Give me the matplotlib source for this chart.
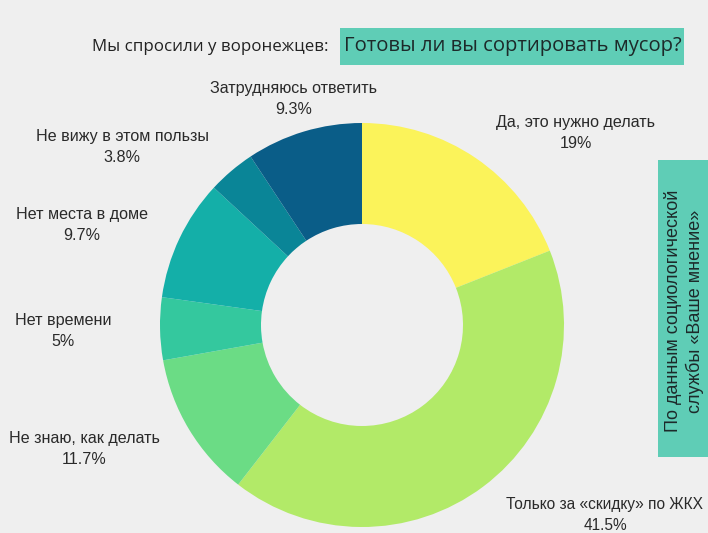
import matplotlib.pyplot as plt
from matplotlib.patches import Rectangle

# Survey answers, clockwise from the top
answers = [
    "Да, это нужно делать",
    "Только за «скидку» по ЖКХ",
    "Не знаю, как делать",
    "Нет времени",
    "Нет места в доме",
    "Не вижу в этом пользы",
    "Затрудняюсь ответить",
]
shares = [19, 41.5, 11.7, 5, 9.7, 3.8, 9.3]
colors = ["#fbf35a", "#b2ea68", "#6bdc85", "#34c89e", "#14afa8", "#0a8597", "#0a5d88"]

W, H = 708, 533
BG = "#efefef"
TEAL = "#5fcdb6"

fig = plt.figure(figsize=(W / 100, H / 100), dpi=100, facecolor=BG)
ax = fig.add_axes([0, 0, 1, 1])
ax.set_facecolor(BG)


def py(y):
    # pixel row (top-down) -> axes y
    return H - y


# donut
ax.pie(shares, colors=colors, startangle=90, counterclock=False,
       center=(362, py(325)), radius=202,
       wedgeprops=dict(width=101, linewidth=0), frame=True)
ax.set_xlim(0, W)
ax.set_ylim(0, H)
ax.set_aspect("equal")
ax.axis("off")

# label positions (center x, first line y, font size) in pixels
label_pos = [(576, 122, 11.6), (605, 505, 11.2), (84, 439, 11.6), (63, 321, 11.6),
             (82, 215, 11.6), (122, 136, 11.6), (294, 89, 11.6)]
for name, val, (x, y, fs) in zip(answers, shares, label_pos):
    ax.text(x, py(y), name, ha="center", va="center", fontsize=fs,
            family="Liberation Sans", color="#2a2a2a")
    ax.text(x, py(y + 21), f"{val:g}%", ha="center", va="center", fontsize=fs,
            family="Liberation Sans", color="#2a2a2a")

# heading
ax.text(92, py(47), "Мы спросили у воронежцев:", ha="left", va="center",
        fontsize=12.2, family="Open Sans", color="#222222")
ax.add_patch(Rectangle((340, py(65)), 344, 37, facecolor=TEAL, edgecolor="none"))
ax.text(513, py(46), "Готовы ли вы сортировать мусор?", ha="center", va="center",
        fontsize=14.6, family="Open Sans", color="#1d2a2a")

# source box on the right
ax.add_patch(Rectangle((658, py(457)), 60, 297, facecolor=TEAL, edgecolor="none"))
ax.text(684, py(311), "По данным социологической\nслужбы «Ваше мнение»",
        ha="center", va="center", rotation=90, fontsize=13,
        family="Liberation Sans", color="#1d2a2a", linespacing=1.25)

fig.savefig("out.png", dpi=100, facecolor=BG)
